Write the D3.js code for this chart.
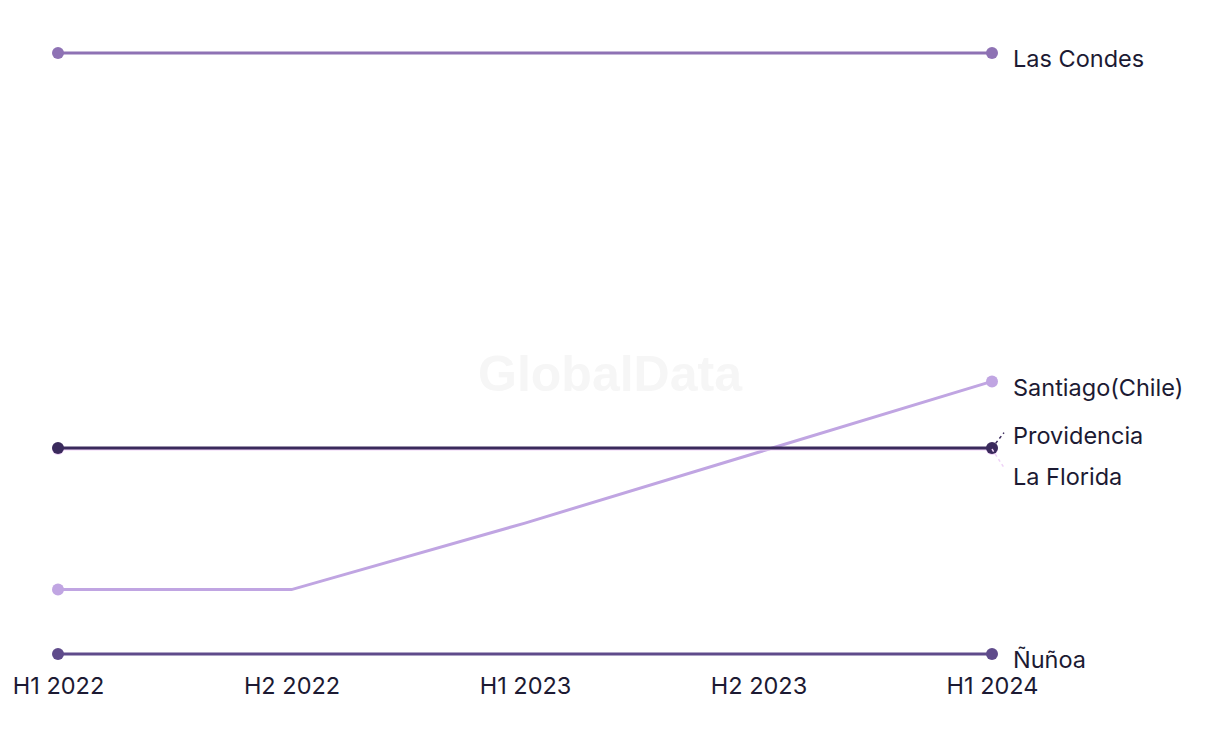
<!DOCTYPE html>
<html><head><meta charset="utf-8">
<script src="https://cdn.jsdelivr.net/npm/d3@7"></script>
<style>body{margin:0;background:#fff}svg{display:block}</style>
</head><body>
<svg id="c" width="1220" height="744"></svg>
<script>
const periods = ["H1 2022","H2 2022","H1 2023","H2 2023","H1 2024"];
const seriesNames = ["Las Condes","Santiago(Chile)","La Florida","Providencia","Ñuñoa"];
const lasCondes   = [38, 38, 38, 38, 38];
const santiago    = [13, 13, 16.1, 19.4, 22.7];
const laFlorida   = [19.55, 19.55, 19.55, 19.55, 19.55];
const providencia = [19.6, 19.6, 19.6, 19.6, 19.6];
const nunoa       = [10, 10, 10, 10, 10];
const colors = ["#8e72b4","#c0a5e2","#efd2f7","#3a2a5c","#5f4b8b"];
const labelOffsets = [0, 0, 22, -18, 0];

const allValues = [lasCondes, santiago, laFlorida, providencia, nunoa];
const svg = d3.select("#c");
const x = d3.scalePoint().domain(periods).range([58, 992]);
const y = d3.scaleLinear().domain([10, 38]).range([654, 53]);

svg.append("text").attr("x", 610).attr("y", 391).attr("text-anchor","middle")
  .attr("font-family","Liberation Sans, Arial, sans-serif").attr("font-weight","bold")
  .attr("font-size", 50).attr("fill","#f6f6f6").text("GlobalData");

const line = d3.line().x((d,i)=>x(periods[i])).y(d=>y(d));
const font = "Inter, 'Noto Sans', sans-serif";
const fs = 23.5;

seriesNames.forEach((name, k) => {
  const vals = allValues[k];
  const g = svg.append("g");
  g.append("path").datum(vals).attr("d", line).attr("fill","none")
    .attr("stroke", colors[k]).attr("stroke-width", 3);
  g.append("circle").attr("cx", x(periods[0])).attr("cy", y(vals[0])).attr("r", 6).attr("fill", colors[k]);
  const last = vals[vals.length-1];
  g.append("circle").attr("cx", x(periods[periods.length-1])).attr("cy", y(last)).attr("r", 6).attr("fill", colors[k]);
});

seriesNames.forEach((name, k) => {
  const vals = allValues[k];
  const last = vals[vals.length-1];
  const ex = x(periods[periods.length-1]), ey = y(last);
  const off = labelOffsets[k];
  if (off !== 0) {
    svg.append("line").attr("x1", ex).attr("y1", ey)
      .attr("x2", ex + 12).attr("y2", ey + off*0.85)
      .attr("stroke", colors[k]).attr("stroke-width", 1.5).attr("stroke-dasharray","3,3");
  }
  svg.append("text").attr("x", 1013).attr("y", ey + off + 6).attr("dy","0.35em")
    .attr("font-family", font).attr("font-size", fs).attr("fill","#1c1a33").text(name);
});

const ax = svg.append("g").attr("transform","translate(0,686)")
  .call(d3.axisBottom(x).tickSize(0).tickPadding(0));
ax.select(".domain").remove();
ax.selectAll("text").attr("font-family", font).attr("font-size", fs).attr("fill","#1c1a33").attr("dy","0.35em");
</script>
</body></html>
